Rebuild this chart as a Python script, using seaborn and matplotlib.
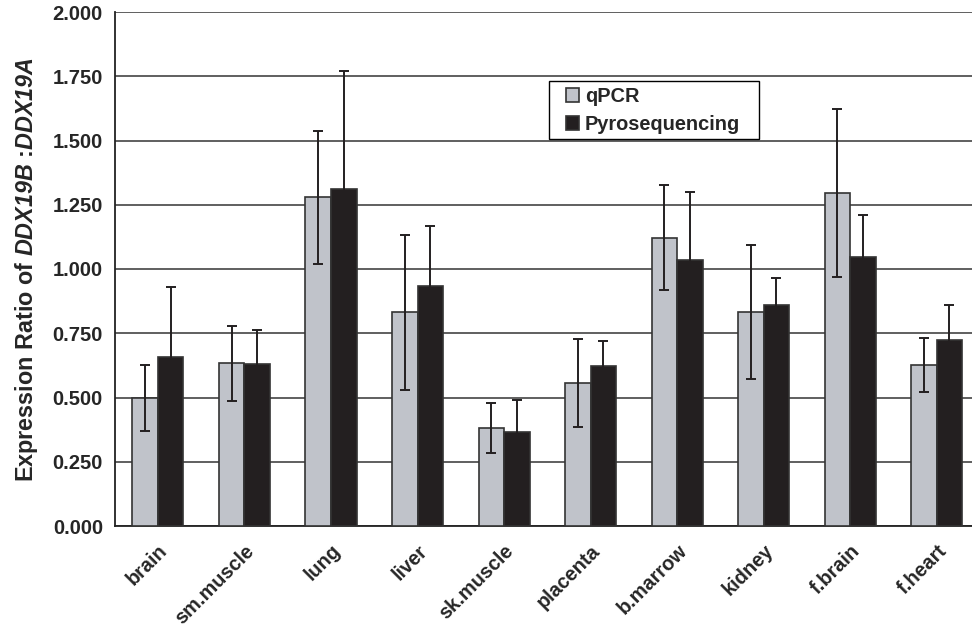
import matplotlib
matplotlib.use("Agg")
import matplotlib.pyplot as plt
from matplotlib.patches import Rectangle
import seaborn as sns
import pandas as pd

tissues = ["brain", "sm.muscle", "lung", "liver", "sk.muscle", "placenta",
           "b.marrow", "kidney", "f.brain", "f.heart"]
methods = ["qPCR", "Pyrosequencing"]
qpcr = [0.498, 0.633, 1.279, 0.831, 0.380, 0.556, 1.121, 0.833, 1.297, 0.625]
qpcr_err = [0.130, 0.145, 0.258, 0.300, 0.097, 0.170, 0.204, 0.261, 0.327, 0.105]
pyro = [0.658, 0.629, 1.311, 0.935, 0.366, 0.623, 1.035, 0.861, 1.048, 0.725]
pyro_err = [0.271, 0.132, 0.459, 0.232, 0.125, 0.097, 0.265, 0.104, 0.161, 0.135]
yticks = [0.0, 0.25, 0.5, 0.75, 1.0, 1.25, 1.5, 1.75, 2.0]

grey = "#c0c3ca"
black = "#231f20"

df = pd.DataFrame({
    "tissue": tissues * 2,
    "method": [methods[0]] * len(tissues) + [methods[1]] * len(tissues),
    "value": qpcr + pyro,
})

sns.set_style("white")
plt.rcParams["font.family"] = ["Liberation Sans", "DejaVu Sans"]
plt.rcParams["mathtext.fontset"] = "custom"
plt.rcParams["mathtext.bfit"] = "Liberation Sans:bold:italic"
plt.rcParams["mathtext.bf"] = "Liberation Sans:bold"

fig = plt.figure(figsize=(9.72, 6.26), dpi=100)
W, H = 972, 626
ax = fig.add_axes([114.7 / W, (H - 526) / H, (980 - 114.7) / W, (526 - 12) / H])

sns.barplot(data=df, x="tissue", y="value", hue="method", order=tissues,
            hue_order=methods, palette=[grey, black], width=0.59,
            edgecolor="#333333", linewidth=1.2, errorbar=None, ax=ax,
            saturation=1, zorder=3)

for cont, errs in zip(ax.containers, [qpcr_err, pyro_err]):
    xs = [b.get_x() + b.get_width() / 2 for b in cont]
    hs = [b.get_height() for b in cont]
    ax.errorbar(xs, hs, yerr=errs, fmt="none", ecolor=black, elinewidth=1.4,
                capsize=3.3, capthick=1.4, zorder=4)

ax.set_ylim(0, 2.0)
ax.set_xlim(-0.5, len(tissues) - 0.5)
ax.set_yticks(yticks)
ax.set_yticklabels([f"{v:.3f}" for v in yticks], fontsize=14.5, fontweight="bold")
ax.yaxis.grid(True, color="#444444", linewidth=1.2, zorder=0)
ax.set_axisbelow(True)
ax.tick_params(axis="y", length=0, pad=8.5)
ax.tick_params(axis="x", length=0, pad=11)
for lab in ax.get_xticklabels():
    lab.set_rotation(45)
    lab.set_ha("right")
    lab.set_rotation_mode("anchor")
    lab.set_fontsize(14.3)
    lab.set_fontweight("bold")

for s in ["top", "right"]:
    ax.spines[s].set_visible(False)
ax.spines["left"].set_color("#222222")
ax.spines["left"].set_linewidth(1.3)
ax.spines["bottom"].set_color("#222222")
ax.spines["bottom"].set_linewidth(1.3)

ax.set_xlabel("")
ax.set_ylabel(r"Expression Ratio of $\mathbfit{DDX19B}$ :$\mathbfit{DDX19A}$",
              fontsize=16.8, fontweight="bold", labelpad=9)

handles, labels = ax.get_legend_handles_labels()
if ax.get_legend() is not None:
    ax.get_legend().remove()
frame = Rectangle((549 / W, 1 - 139 / H), 210 / W, 58 / H, transform=fig.transFigure,
                  facecolor="white", edgecolor="black", linewidth=1.0,
                  zorder=9, clip_on=False)
ax.add_artist(frame)
leg = ax.legend(handles, labels, loc="upper left",
                bbox_to_anchor=(566 / W, 1 - 87 / H), bbox_transform=fig.transFigure,
                frameon=False, borderaxespad=0, borderpad=0,
                handlelength=0.65, handleheight=0.65, handletextpad=0.3,
                labelspacing=0.45,
                prop={"weight": "bold", "size": 14.4})
leg.set_zorder(10)

fig.savefig("out.png", dpi=100)
